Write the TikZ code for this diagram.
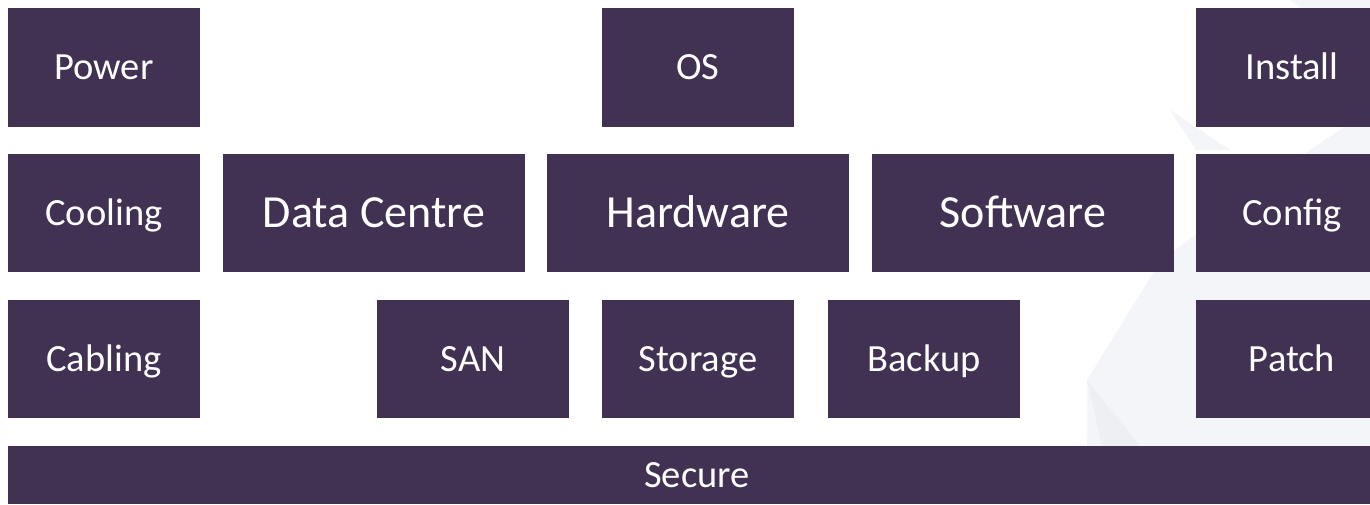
\documentclass[tikz,border=0pt]{standalone}
\usepackage{fontspec}
\setmainfont{Carlito}
\definecolor{boxc}{HTML}{413153}
\definecolor{bgA}{HTML}{F4F5F8}
\definecolor{bgB}{HTML}{EDEFF3}
\begin{document}
\begin{tikzpicture}[x=0.5pt,y=-0.5pt,
  tile/.style={rectangle, fill=boxc, text=white, inner sep=0pt, anchor=center,
    minimum width=96pt, minimum height=59pt, font=\fontsize{19.25}{23}\selectfont,
    text height=12.4pt, text depth=0pt},
  bigtile/.style={tile, minimum width=151pt, font=\fontsize{23}{28}\selectfont, text height=14.8pt}]
\useasboundingbox (0,0) rectangle (1370,504);
\clip (0,0) rectangle (1370,504);
\fill[white] (0,0) rectangle (1370,504);
% faint background facets
\fill[bgA] (1087,446) -- (1087,380) -- (1160,262) -- (1265,180) -- (1370,110) -- (1370,446) -- cycle;
\fill[bgB] (1087,380) -- (1102,446) -- (1140,446) -- cycle;
\fill[bgA] (1290,0) -- (1370,0) -- (1370,62) -- cycle;
\fill[bgA] (1170,110) -- (1230,150) -- (1196,150) -- cycle;
% row 1
\node[tile, minimum height=59.5pt] (power)   at (104,67.5)  {Power};
\node[tile, minimum height=59.5pt] (os)      at (698,67.5)  {OS};
\node[tile, minimum height=59.5pt] (install) at (1292,67.5) {Install};
% row 2
\node[tile]    (cooling)  at (104,213)  {Cooling};
\node[bigtile] (dc)       at (374,213)  {Data Centre};
\node[bigtile] (hardware) at (698,213)  {Hardware};
\node[bigtile] (software) at (1023,213) {Software};
\node[tile]    (config)   at (1292,213) {Config};
% row 3
\node[tile] (cabling) at (104,359)  {Cabling};
\node[tile] (san)     at (473,359)  {SAN};
\node[tile] (storage) at (698,359)  {Storage};
\node[tile] (backup)  at (924,359)  {Backup};
\node[tile] (patch)   at (1292,359) {Patch};
% base
\node[tile, minimum width=689pt, minimum height=29pt] (secure) at (697,475) {Secure};
\end{tikzpicture}
\end{document}
